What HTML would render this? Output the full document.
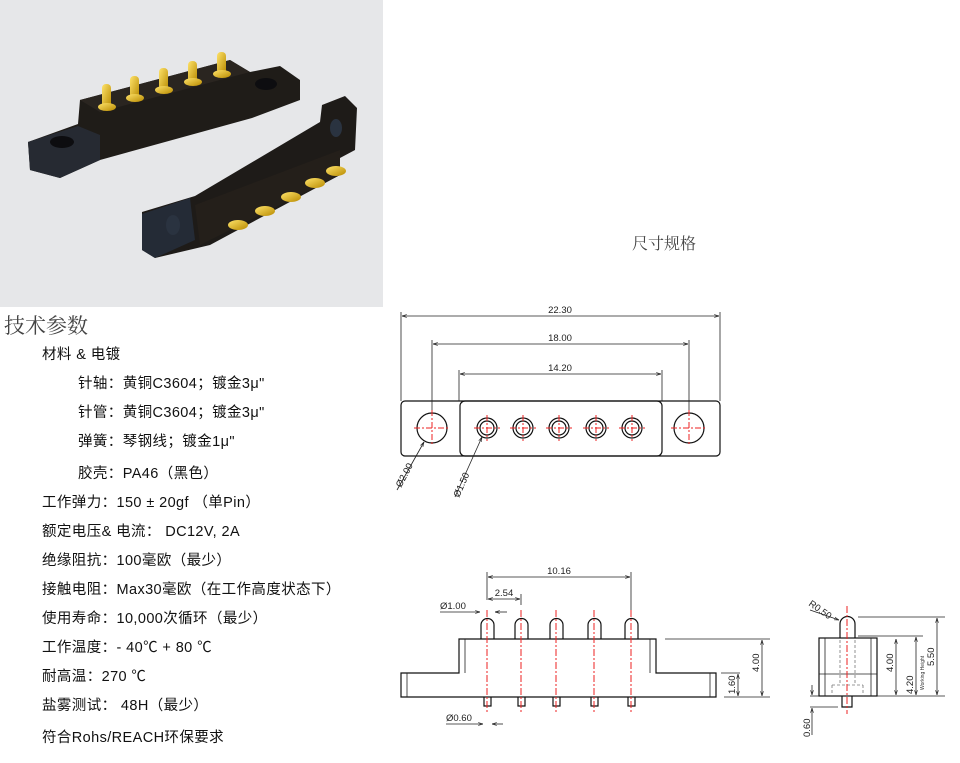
<!DOCTYPE html>
<html><head><meta charset="utf-8"><style>
body{margin:0;background:#fff;width:960px;height:763px;overflow:hidden}
svg{display:block}
.t{font-family:"Liberation Sans","Noto Sans CJK SC",sans-serif;font-size:14.5px;fill:#111;letter-spacing:0.4px}
.d{font-family:"Liberation Sans",sans-serif;font-size:9.5px;fill:#222}
.k{stroke:#111;stroke-width:1.2;fill:none}
.th{stroke:#222;stroke-width:0.8;fill:none}
.r{stroke:#e22;stroke-width:1;stroke-dasharray:7 2 2 2;fill:none}
</style></head><body>
<svg width="960" height="763" viewBox="0 0 960 763" xmlns="http://www.w3.org/2000/svg">
<defs>
<marker id="a" viewBox="0 0 10 10" refX="10" refY="5" markerWidth="6" markerHeight="6" orient="auto-start-reverse"><path d="M0,2 L10,5 L0,8" fill="none" stroke="#222" stroke-width="1.3"/></marker>
<linearGradient id="g" x1="0" y1="0" x2="1" y2="1"><stop offset="0" stop-color="#ffe36a"/><stop offset="1" stop-color="#b88a00"/></linearGradient>
</defs>
<rect x="0" y="0" width="383" height="307" fill="#e6e7e9"/>
<!-- first connector -->
<polygon points="28,142 78,124 80,100 230,60 250,72 280,66 300,80 300,100 252,118 100,160 60,178 30,170" fill="#1f1c18"/>
<polygon points="80,100 230,60 250,72 100,112" fill="#2a2520"/>
<polygon points="28,142 78,126 100,135 100,160 60,178 30,170" fill="#262a32"/>
<ellipse cx="62" cy="142" rx="12" ry="6" fill="#0d0d10"/>
<ellipse cx="266" cy="84" rx="11" ry="6" fill="#0d0d10"/>
<!-- second connector -->
<polygon points="142,212 195,196 320,122 322,105 345,96 357,108 355,150 340,158 340,175 210,245 155,258 142,250" fill="#1e1b18"/>
<polygon points="142,214 190,198 195,240 155,258 142,250" fill="#242b36"/>
<polygon points="195,205 340,150 340,175 200,245" fill="#241f1a"/>
<ellipse cx="173" cy="225" rx="7" ry="10" fill="#2a3340"/>
<ellipse cx="336" cy="128" rx="6" ry="9" fill="#2a3340"/>
<g fill="url(#g)">
<rect x="102" y="84" width="9" height="24" rx="4"/><ellipse cx="107" cy="107" rx="9" ry="4"/>
<rect x="130" y="76" width="9" height="24" rx="4"/><ellipse cx="135" cy="98" rx="9" ry="4"/>
<rect x="159" y="68" width="9" height="24" rx="4"/><ellipse cx="164" cy="90" rx="9" ry="4"/>
<rect x="188" y="61" width="9" height="22" rx="4"/><ellipse cx="193" cy="82" rx="9" ry="4"/>
<rect x="217" y="52" width="9" height="22" rx="4"/><ellipse cx="222" cy="74" rx="9" ry="4"/>
<ellipse cx="238" cy="225" rx="10" ry="5"/><ellipse cx="265" cy="211" rx="10" ry="5"/>
<ellipse cx="291" cy="197" rx="10" ry="5"/><ellipse cx="315" cy="183" rx="10" ry="5"/><ellipse cx="336" cy="171" rx="10" ry="5"/>
</g>
<text x="4" y="333" style="font-family:'Liberation Serif','Noto Serif CJK SC',serif;font-size:21px;fill:#444">技术参数</text>
<g class="t">
<text x="42" y="359">材料 &amp; 电镀</text>
<text x="78" y="388">针轴：黄铜C3604；镀金3μ"</text>
<text x="78" y="417">针管：黄铜C3604；镀金3μ"</text>
<text x="78" y="446">弹簧：琴钢线；镀金1μ"</text>
<text x="78" y="478">胶壳：PA46（黑色）</text>
<text x="42" y="507">工作弹力：150 ± 20gf （单Pin）</text>
<text x="42" y="536">额定电压&amp; 电流： DC12V, 2A</text>
<text x="42" y="565">绝缘阻抗：100毫欧（最少）</text>
<text x="42" y="594">接触电阻：Max30毫欧（在工作高度状态下）</text>
<text x="42" y="623">使用寿命：10,000次循环（最少）</text>
<text x="42" y="652">工作温度：- 40℃ + 80 ℃</text>
<text x="42" y="681">耐高温：270 ℃</text>
<text x="42" y="710">盐雾测试： 48H（最少）</text>
<text x="42" y="742">符合Rohs/REACH环保要求</text>
</g>
<text x="632" y="249" style="font-family:'Liberation Serif','Noto Serif CJK SC',serif;font-size:16px;fill:#444">尺寸规格</text>
<rect x="401" y="401" width="319" height="55" rx="4" class="k"/>
<rect x="460" y="401" width="202" height="55" rx="5" class="k"/>
<line x1="401" y1="312" x2="401" y2="401" class="th"/><line x1="720" y1="312" x2="720" y2="401" class="th"/>
<line x1="402" y1="316" x2="719" y2="316" class="th" marker-start="url(#a)" marker-end="url(#a)"/>
<text x="560" y="313" class="d" text-anchor="middle">22.30</text>
<line x1="432" y1="340" x2="432" y2="412" class="th"/><line x1="689" y1="340" x2="689" y2="412" class="th"/>
<line x1="433" y1="344" x2="688" y2="344" class="th" marker-start="url(#a)" marker-end="url(#a)"/>
<text x="560" y="341" class="d" text-anchor="middle">18.00</text>
<line x1="459" y1="370" x2="459" y2="401" class="th"/><line x1="662" y1="370" x2="662" y2="401" class="th"/>
<line x1="460" y1="374" x2="661" y2="374" class="th" marker-start="url(#a)" marker-end="url(#a)"/>
<text x="560" y="371" class="d" text-anchor="middle">14.20</text>
<circle cx="432" cy="428" r="15" class="k"/><circle cx="689" cy="428" r="15" class="k"/>
<g class="k">
<circle cx="487" cy="428" r="10"/><circle cx="487" cy="428" r="7"/>
<circle cx="523" cy="428" r="10"/><circle cx="523" cy="428" r="7"/>
<circle cx="559" cy="428" r="10"/><circle cx="559" cy="428" r="7"/>
<circle cx="596" cy="428" r="10"/><circle cx="596" cy="428" r="7"/>
<circle cx="632" cy="428" r="10"/><circle cx="632" cy="428" r="7"/>
</g>
<g stroke="#e22" stroke-width="1" stroke-dasharray="6 2 2 2">
<path d="M414,428H450M432,410V446M671,428H707M689,410V446"/>
<path d="M474,428H500M487,415V441M510,428H536M523,415V441M546,428H572M559,415V441M583,428H609M596,415V441M619,428H645M632,415V441"/>
</g>
<line x1="397" y1="490" x2="424" y2="442" class="th" marker-end="url(#a)"/>
<line x1="455" y1="497" x2="482" y2="437" class="th" marker-end="url(#a)"/>
<text class="d" transform="translate(401,488) rotate(-62)">Ø2.00</text>
<text class="d" transform="translate(459,498) rotate(-66)">Ø1.50</text>
<path d="M401,673H459V639H656V673H716V697H401Z" class="k"/>
<path d="M407,673V697M710,673V697M465,639V673M650,639V673" class="th"/>
<g class="k">
<path d="M481,639V625A6.5,6.5 0 0 1 494,625V639"/>
<path d="M515,639V625A6.5,6.5 0 0 1 528,625V639"/>
<path d="M550,639V625A6.5,6.5 0 0 1 563,625V639"/>
<path d="M588,639V625A6.5,6.5 0 0 1 601,625V639"/>
<path d="M625,639V625A6.5,6.5 0 0 1 638,625V639"/>
<path d="M484,697V706H491V697M518,697V706H525V697M553,697V706H560V697M591,697V706H598V697M628,697V706H635V697"/>
</g>
<path class="r" d="M487,610V714M521,610V714M556,610V714M594,610V714M631,610V714"/>
<line x1="487" y1="572" x2="487" y2="600" class="th"/><line x1="631" y1="572" x2="631" y2="610" class="th"/>
<line x1="488" y1="577" x2="630" y2="577" class="th" marker-start="url(#a)" marker-end="url(#a)"/>
<text x="559" y="574" class="d" text-anchor="middle">10.16</text>
<line x1="521" y1="594" x2="521" y2="605" class="th"/>
<line x1="488" y1="599" x2="520" y2="599" class="th" marker-start="url(#a)" marker-end="url(#a)"/>
<text x="504" y="596" class="d" text-anchor="middle">2.54</text>
<text x="440" y="609" class="d">Ø1.00</text>
<line x1="440" y1="612" x2="480" y2="612" class="th" marker-end="url(#a)"/>
<line x1="507" y1="612" x2="495" y2="612" class="th" marker-end="url(#a)"/>
<text x="446" y="721" class="d">Ø0.60</text>
<line x1="446" y1="724" x2="483" y2="724" class="th" marker-end="url(#a)"/>
<line x1="503" y1="724" x2="492" y2="724" class="th" marker-end="url(#a)"/>
<line x1="665" y1="639" x2="770" y2="639" class="th"/>
<line x1="724" y1="697" x2="770" y2="697" class="th"/>
<line x1="762" y1="640" x2="762" y2="696" class="th" marker-start="url(#a)" marker-end="url(#a)"/>
<text class="d" transform="translate(759,672) rotate(-90)">4.00</text>
<line x1="721" y1="673" x2="740" y2="673" class="th"/>
<line x1="738" y1="674" x2="738" y2="696" class="th" marker-start="url(#a)" marker-end="url(#a)"/>
<text class="d" transform="translate(735,694) rotate(-90)">1.60</text>
<rect x="819" y="638" width="58" height="58" class="k"/>
<path d="M825,638V696M871,638V696M819,674H877" class="th"/>
<path d="M840,638V624A7.5,7.5 0 0 1 855,624V638" class="k"/>
<path d="M842,696V707H852V696" class="k"/>
<path d="M840,640V685M855,640V685M832,685V696M863,685V696M832,685H863" stroke="#777" stroke-width="0.8" stroke-dasharray="3 2" fill="none"/>
<path class="r" d="M847,606V714"/>
<text class="d" transform="translate(808,605) rotate(35)">R0.50</text>
<line x1="810" y1="610" x2="839" y2="620" class="th" marker-end="url(#a)"/>
<line x1="858" y1="617" x2="945" y2="617" class="th"/>
<line x1="858" y1="636" x2="923" y2="636" class="th"/>
<line x1="877" y1="696" x2="945" y2="696" class="th"/>
<line x1="937" y1="618" x2="937" y2="695" class="th" marker-start="url(#a)" marker-end="url(#a)"/>
<text class="d" transform="translate(934,666) rotate(-90)">5.50</text>
<line x1="896" y1="639" x2="896" y2="695" class="th" marker-start="url(#a)" marker-end="url(#a)"/>
<text class="d" transform="translate(893,672) rotate(-90)">4.00</text>
<line x1="916" y1="637" x2="916" y2="695" class="th" marker-start="url(#a)" marker-end="url(#a)"/>
<text class="d" transform="translate(913,694) rotate(-90)">4.20</text>
<text transform="translate(924,690) rotate(-90)" style="font-family:'Liberation Sans',sans-serif;font-size:5px;fill:#333">Working Height</text>
<line x1="810" y1="696" x2="819" y2="696" class="th"/>
<line x1="810" y1="707" x2="838" y2="707" class="th"/>
<line x1="812" y1="685" x2="812" y2="695" class="th" marker-end="url(#a)"/>
<line x1="812" y1="735" x2="812" y2="708" class="th" marker-end="url(#a)"/>
<text class="d" transform="translate(810,737) rotate(-90)">0.60</text>
</svg>
</body></html>
